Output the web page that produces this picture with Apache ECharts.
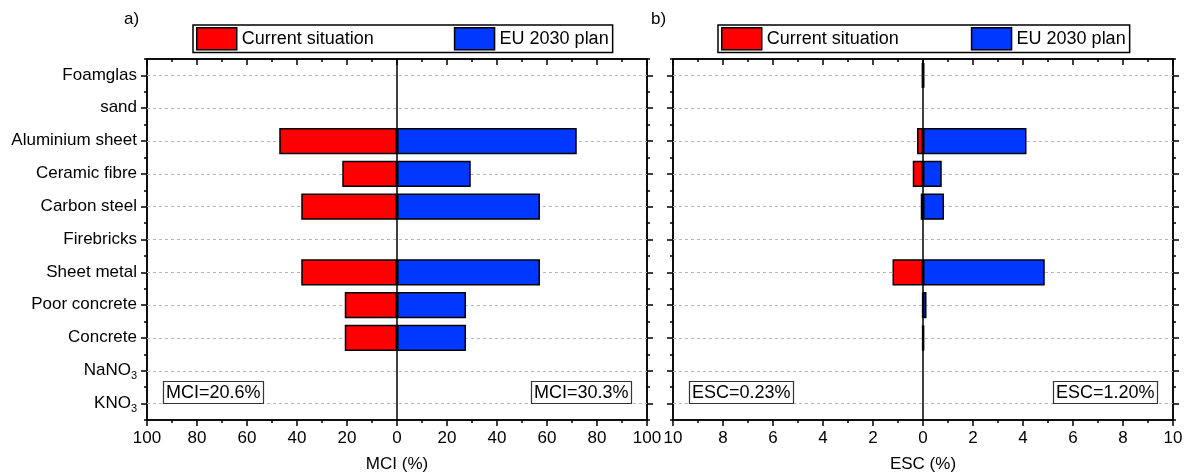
<!DOCTYPE html>
<html>
<head>
<meta charset="utf-8">
<title>MCI and ESC by material</title>
<script src="https://cdn.jsdelivr.net/npm/echarts@6/dist/echarts.min.js"></script>
<style>
  html, body { margin: 0; padding: 0; background: #fff; }
  #chart { width: 1189px; height: 473px; }
</style>
</head>
<body>
<div id="chart"></div>
<script>
// Materials, top to bottom
const categories = ['Foamglas', 'sand', 'Aluminium sheet', 'Ceramic fibre', 'Carbon steel',
  'Firebricks', 'Sheet metal', 'Poor concrete', 'Concrete', 'NaNO3', 'KNO3'];

// MCI (%) per material
const mciCurrent = [0, 0, 47.1, 21.9, 38.3, 0, 38.3, 20.9, 20.9, 0, 0];
const mciEU = [0, 0, 71.9, 29.5, 57.2, 0, 57.2, 27.6, 27.6, 0, 0];

// ESC (%) per material
const escCurrent = [0.05, 0, 0.24, 0.41, 0.09, 0, 1.22, 0.03, 0.03, 0, 0];
const escEU = [0.06, 0, 4.14, 0.75, 0.84, 0, 4.87, 0.14, 0.05, 0, 0];

// Overall indicators
const mciTotals = ['MCI=20.6%', 'MCI=30.3%'];
const escTotals = ['ESC=0.23%', 'ESC=1.20%'];

const seriesNames = ['Current situation', 'EU 2030 plan'];
const panelTags = ['a)', 'b)'];

const FONT = '"Liberation Sans", Arial, sans-serif';
const RED = '#ff0000';
const BLUE = '#0038ff';

const chart = echarts.init(document.getElementById('chart'));

const gridBase = { top: 59, width: 500, height: 361, show: true, borderColor: '#000', borderWidth: 1.5,
  containLabel: false, outerBoundsMode: 'none' };
const grids = [
  Object.assign({}, gridBase, { left: 147 }),
  Object.assign({}, gridBase, { left: 673 })
];

const ranges = [100, 10];
const axisNames = ['MCI (%)', 'ESC (%)'];

const tickLine = { color: '#000', width: 1.5 };

const xAxes = [];
const yAxes = [];
for (let g = 0; g < 2; g++) {
  const R = ranges[g];
  xAxes.push({
    gridIndex: g, type: 'value', position: 'bottom',
    min: -R, max: R, interval: R / 5,
    axisLine: { show: true, onZero: false, lineStyle: tickLine },
    axisTick: { show: true, length: 6, inside: false, lineStyle: tickLine },
    minorTick: { show: true, splitNumber: 2, length: 3, lineStyle: tickLine },
    axisLabel: { formatter: v => String(Math.abs(v)), fontSize: 17, color: '#000', fontFamily: FONT, margin: 10 },
    splitLine: { show: false },
    name: axisNames[g], nameLocation: 'middle', nameGap: 36,
    nameTextStyle: { fontSize: 17, color: '#000', fontFamily: FONT }
  });
  xAxes.push({
    gridIndex: g, type: 'value', position: 'top',
    min: -R, max: R, interval: R / 5,
    axisLine: { show: true, onZero: false, lineStyle: tickLine },
    axisTick: { show: true, length: 6, inside: true, lineStyle: tickLine },
    minorTick: { show: true, splitNumber: 2, length: 3, lineStyle: tickLine },
    axisLabel: { show: false },
    splitLine: { show: false }
  });
  for (const pos of ['left', 'right']) {
    // ticks at the material labels
    yAxes.push({
      gridIndex: g, type: 'category', data: categories, inverse: true, position: pos,
      axisLine: { show: true, onZero: false, lineStyle: tickLine },
      axisTick: { show: true, alignWithLabel: true, length: 6, lineStyle: tickLine },
      axisLabel: {
        show: g === 0 && pos === 'left', margin: 10, color: '#000', fontFamily: FONT,
        formatter: v => {
          const m = v.match(/^(.*?)(\d+)$/);
          return m ? '{n|' + m[1] + '}{s|' + m[2] + '}' : '{n|' + v + '}';
        },
        rich: {
          n: { fontSize: 17, fontFamily: FONT, color: '#000', verticalAlign: 'top', lineHeight: 18 },
          s: { fontSize: 11, fontFamily: FONT, color: '#000', verticalAlign: 'top', padding: [9, 0, 0, 0], lineHeight: 11 }
        }
      },
      splitLine: { show: false }
    });
    // short ticks between materials
    yAxes.push({
      gridIndex: g, type: 'category', data: categories, inverse: true, position: pos,
      axisLine: { show: false, onZero: false },
      axisTick: { show: true, length: 3, lineStyle: tickLine },
      axisLabel: { show: false },
      splitLine: { show: false }
    });
  }
}

function barSeries(name, values, sign, color, g) {
  return {
    name: name, type: 'bar',
    xAxisIndex: g * 2, yAxisIndex: g * 4,
    data: values.map(v => (v === 0 ? '-' : sign * v)),
    barWidth: '80%', barGap: '-100%',
    itemStyle: { color: color, borderColor: '#000', borderWidth: 1.5 },
    z: 3,
    emphasis: { disabled: true }
  };
}

const series = [];
const panelData = [[mciCurrent, mciEU], [escCurrent, escEU]];
for (let g = 0; g < 2; g++) {
  // dashed guide lines through each material, kept under the bars
  series.push({
    type: 'line', xAxisIndex: g * 2, yAxisIndex: g * 4, data: [], z: 1, silent: true,
    markLine: {
      silent: true, symbol: 'none', label: { show: false }, z: 1,
      lineStyle: { color: '#b5b5b5', type: [3, 3], width: 1 },
      data: categories.map((c, i) => ({ yAxis: i }))
    }
  });
  series.push(barSeries(seriesNames[0], panelData[g][0], -1, RED, g));
  const blue = barSeries(seriesNames[1], panelData[g][1], 1, BLUE, g);
  // zero line
  blue.markLine = {
    silent: true, symbol: 'none', label: { show: false }, z: 10,
    lineStyle: { color: '#000', type: 'solid', width: 1.5 },
    data: [{ xAxis: 0 }]
  };
  series.push(blue);
}

const legendBase = {
  data: seriesNames, orient: 'horizontal', top: 25,
  itemWidth: 40, itemHeight: 22,
  padding: [2, 4, 2, 3],
  borderColor: '#000', borderWidth: 1.5, backgroundColor: '#fff',
  itemStyle: { borderColor: '#000', borderWidth: 1.5 },
  textStyle: { fontSize: 18, color: '#000', fontFamily: FONT },
  icon: 'rect', selectedMode: false
};

const boxStyle = (text, left) => ({
  text: text, left: left, top: 381,
  padding: [3, 3, 2, 3],
  borderColor: '#333', borderWidth: 1.2,
  textStyle: { fontSize: 18, fontWeight: 'normal', color: '#000', fontFamily: FONT }
});

const option = {
  animation: false,
  backgroundColor: '#fff',
  textStyle: { fontFamily: FONT },
  grid: grids,
  xAxis: xAxes,
  yAxis: yAxes,
  legend: [
    Object.assign({}, legendBase, { left: 193, itemGap: 80 }),
    Object.assign({}, legendBase, { left: 718, itemGap: 72 })
  ],
  title: [
    { text: panelTags[0], left: 119, top: 6, textStyle: { fontSize: 17, fontWeight: 'normal', color: '#000', fontFamily: FONT } },
    { text: panelTags[1], left: 646, top: 6, textStyle: { fontSize: 17, fontWeight: 'normal', color: '#000', fontFamily: FONT } },
    boxStyle(mciTotals[0], 163),
    boxStyle(mciTotals[1], 531),
    boxStyle(escTotals[0], 689),
    boxStyle(escTotals[1], 1053)
  ],
  series: series
};

chart.setOption(option);
</script>
</body>
</html>
